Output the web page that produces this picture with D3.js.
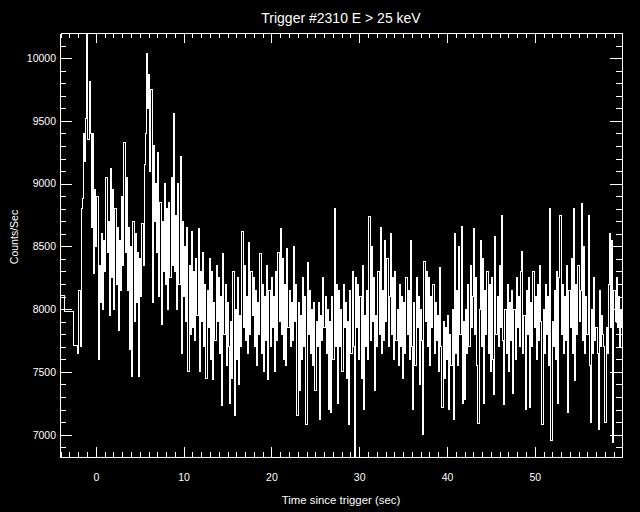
<!DOCTYPE html>
<html>
<head>
<meta charset="utf-8">
<script src="https://cdn.jsdelivr.net/npm/d3@7"></script>
<style>
  html, body { margin: 0; padding: 0; background: #000; }
  svg { display: block; background: #000; }
  .axis path, .axis line { stroke: #fff; stroke-width: 1; shape-rendering: crispEdges; }
  .axis text { fill: #fff; font-family: "Liberation Sans", Arial, sans-serif; font-size: 10.5px; }
  .lbl { fill: #fff; font-family: "Liberation Sans", Arial, sans-serif; }
</style>
</head>
<body>
<script>
// ---- data ----
const titleText = "Trigger #2310 E > 25 keV";
const xLabelText = "Time since trigger (sec)";
const yLabelText = "Counts/Sec";
const xMajorTicks = [0, 10, 20, 30, 40, 50];
const yMajorTicks = [7000, 7500, 8000, 8500, 9000, 9500, 10000];

// pre-burst 1.024 s bins (start times, counts/s)
const preStarts = [-4.608, -3.584, -2.56];
const preValues = [8105, 7985, 7710];

// fast bins, start time and width (s)
const fastStart = -2.048;
const fastBin = 0.128;
const fastA = [7650,8150,7700,8800,8880,9400,9180,9520,10300,9350,9810,9400,8650,9400,8280,8950,8500,8900,7600,8350,
8050,8600,8000,8550,8300,9050,8450,8700,7950,9120,8250,8950,8000,8800,8200,8650,7830,8550,8150,8900,
8350,9330,8450,9050,8150,8650,7680,8500,7460,8700,7900,8600,8050,8450,7460,8400,8100,8680,8350,9150,
9400,10040,9600,9870,9100,9750,8050,9300,8700,9000,8450,9250,8100,8850,7880,8700,8300,9000,8200,8800,
8000,8850,8250,9050,8350,9560,8300,8750,8000,9000,8200,9220,7650,8700,8100,8500,7900,8650,7500,8350];
const fastB = [7800,8615,7850,8300,7750,8400,7950,8640,7500,8300,7900,8450,7700,8200,7450,8150,7850,8400,7600,8300,
7440,8050,7750,8350,7900,8250,7650,8100,7235,8440,7800,8200,7550,8050,7700,7250,7900,7450,8300,7155,
8000,7600,8250,7400,7950,7700,8615,7850,8350,7750,8100,7650,8530,7800,8300,7950,8250,7700,8150,7550,
8050,7800,8440,7650,8200,7500,8100,7750,8350,7440,8150,7700,8250,7850,8100,7500,8300,7750,8450,7900,
8640,7800,8400,7600,8200,7550,8480,7850,8150,7700,8050,7750,8500,7900,8200,7155,8050,7350,7950,7600];
const fastC = [8250,7700,8100,7080,8370,7800,8150,7650,8000,7550,8050,7350,7900,7700,8050,7120,7950,7750,8250,7850,
8100,7650,8000,7200,7900,7180,8100,7600,8805,7700,8200,7250,8150,7700,8000,7500,8200,7850,8050,7450,
7900,7080,8150,7650,8300,7700,6800,8250,7850,8200,7600,8100,7450,8350,7200,7950,7700,8150,7600,8740,
7750,8500,7900,8250,7350,7950,7700,8300,7800,8650,7650,8150,7750,8550,7900,8400,7700,8100,8600,7800,
8250,7600,8300,7750,8000,7550,8200,7700,8100,7450,8050,7650,8250,7800,8150,7600,8550,7700,7200,8050];
const fastD = [7550,8250,7850,8100,7400,8000,7750,7000,8380,7900,8300,7700,8250,7550,8100,7850,8200,7650,8050,7750,
7950,7500,8330,7700,7220,7900,7450,7850,7600,7950,7200,7800,7550,8000,7120,8600,7650,8150,7550,8500,
7800,8660,7250,7900,7280,8000,7650,8200,7700,8350,7850,8100,8640,7800,8250,7550,7090,8000,8550,7700,
8400,7250,8150,7800,8300,7650,8200,7500,8250,7600,7320,8580,7800,8100,7700,8350,7850,8750,7750,7240,
8000,7650,8200,7500,8050,7750,8150,7330,8000,7600,8250,7850,8100,7700,8300,8460,7650,7950,7200,8150];
const fastE = [7800,8250,7220,8050,7700,8300,7850,8100,7600,8200,7750,8350,7900,7080,8000,7650,8200,7800,8100,7550,
8805,6950,7900,7700,8150,7600,8300,7250,8250,8750,7800,8200,7650,8100,7750,8350,7180,8150,7850,8400,
7650,8800,7430,8200,7800,8350,7900,8150,8840,7750,8500,7650,8100,7800,8750,7550,7100,8000,7650,8250,
7750,7850,7650,7040,8150,7700,7950,7800,7700,7100,7850,7650,8200,8600,7850,8550,6940,8150,7900,8250,
7850,8100,7700,8000,7850];

// ---- chart ----
const W = 640, H = 512;
const L = 60, R = 622, T = 33, B = 457;

const svg = d3.select("body").append("svg").attr("width", W).attr("height", H);

const x = d3.scaleLinear().domain([-4.08, 59.93]).range([L, R]);
const y = d3.scaleLinear().domain([6822, 10200]).range([B, T]);

const fastValues = [].concat(fastA, fastB, fastC, fastD, fastE);
const pts = preStarts.map((t, i) => [t, preValues[i]]);
fastValues.forEach((v, i) => pts.push([fastStart + i * fastBin, v]));
pts.push([fastStart + fastValues.length * fastBin, fastValues[fastValues.length - 1]]);

svg.append("clipPath").attr("id", "clip")
  .append("rect").attr("x", L).attr("y", T).attr("width", R - L + 1).attr("height", B - T + 1);

const line = d3.line().x(d => x(d[0])).y(d => y(d[1])).curve(d3.curveStepAfter);
svg.append("path").datum(pts)
  .attr("clip-path", "url(#clip)")
  .attr("d", line)
  .attr("fill", "none").attr("stroke", "#fff").attr("stroke-width", 1)
  .attr("shape-rendering", "crispEdges");

const xMinor = d3.range(-4, 60, 1).filter(v => xMajorTicks.indexOf(v) < 0);
const yMinor = d3.range(6900, 10200, 100).filter(v => yMajorTicks.indexOf(v) < 0);

function styleAxis(g) { g.attr("class", "axis"); }

// bottom
svg.append("g").attr("transform", `translate(0,${B})`).call(styleAxis)
  .call(d3.axisBottom(x).tickValues(xMajorTicks).tickSize(-10).tickSizeOuter(0).tickPadding(17).tickFormat(d3.format("d")));
svg.append("g").attr("transform", `translate(0,${B})`).call(styleAxis)
  .call(d3.axisBottom(x).tickValues(xMinor).tickSize(-5).tickSizeOuter(0).tickFormat(""));
// top
svg.append("g").attr("transform", `translate(0,${T})`).call(styleAxis)
  .call(d3.axisTop(x).tickValues(xMajorTicks).tickSize(-10).tickSizeOuter(0).tickFormat(""));
svg.append("g").attr("transform", `translate(0,${T})`).call(styleAxis)
  .call(d3.axisTop(x).tickValues(xMinor).tickSize(-5).tickSizeOuter(0).tickFormat(""));
// left
svg.append("g").attr("transform", `translate(${L},0)`).call(styleAxis)
  .call(d3.axisLeft(y).tickValues(yMajorTicks).tickSize(-12).tickSizeOuter(0).tickPadding(4).tickFormat(d3.format("d")));
svg.append("g").attr("transform", `translate(${L},0)`).call(styleAxis)
  .call(d3.axisLeft(y).tickValues(yMinor).tickSize(-6).tickSizeOuter(0).tickFormat(""));
// right
svg.append("g").attr("transform", `translate(${R},0)`).call(styleAxis)
  .call(d3.axisRight(y).tickValues(yMajorTicks).tickSize(-12).tickSizeOuter(0).tickFormat(""));
svg.append("g").attr("transform", `translate(${R},0)`).call(styleAxis)
  .call(d3.axisRight(y).tickValues(yMinor).tickSize(-6).tickSizeOuter(0).tickFormat(""));

// labels
svg.append("text").attr("class", "lbl").attr("x", (L + R) / 2).attr("y", 23)
  .attr("text-anchor", "middle").attr("font-size", "14px").text(titleText);
svg.append("text").attr("class", "lbl").attr("x", (L + R) / 2).attr("y", 504)
  .attr("text-anchor", "middle").attr("font-size", "11.4px").text(xLabelText);
svg.append("text").attr("class", "lbl")
  .attr("transform", "translate(18,237) rotate(-90)")
  .attr("text-anchor", "middle").attr("font-size", "10.5px").text(yLabelText);
</script>
</body>
</html>
